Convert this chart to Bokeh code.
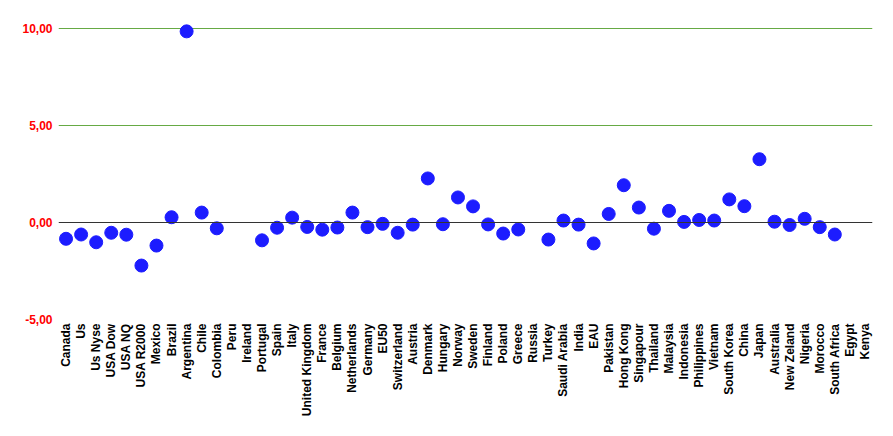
import math
from bokeh.plotting import figure
from bokeh.models import ColumnDataSource, Span, FixedTicker, CustomJSTickFormatter, Range1d, FactorRange
from bokeh.embed import file_html
from bokeh.resources import INLINE

countries = ["Canada", "Us", "Us Nyse", "USA Dow", "USA NQ", "USA R2000", "Mexico", "Brazil",
             "Argentina", "Chile", "Colombia", "Peru", "Ireland", "Portugal", "Spain", "Italy",
             "United Kingdom", "France", "Belgium", "Netherlands", "Germany", "EU50", "Switzerland",
             "Austria", "Denmark", "Hungary", "Norway", "Sweden", "Finland", "Poland", "Greece",
             "Russia", "Turkey", "Saudi Arabia", "India", "EAU", "Pakistan", "Hong Kong", "Singapour",
             "Thailand", "Malaysia", "Indonesia", "Philippines", "Vietnam", "South Korea", "China",
             "Japan", "Australia", "New Zeland", "Nigeria", "Morocco", "South Africa", "Egypt", "Kenya"]

values = [-0.84, -0.62, -1.02, -0.53, -0.63, -2.22, -1.19, 0.27,
          9.85, 0.51, -0.30, None, None, -0.92, -0.27, 0.25,
          -0.23, -0.37, -0.26, 0.51, -0.24, -0.07, -0.53,
          -0.11, 2.27, -0.09, 1.29, 0.83, -0.10, -0.57, -0.36,
          None, -0.88, 0.10, -0.11, -1.08, 0.44, 1.92, 0.77,
          -0.32, 0.60, 0.03, 0.13, 0.10, 1.19, 0.84,
          3.26, 0.04, -0.13, 0.19, -0.24, -0.62, None, None]

y_ticks = [-5, 0, 5, 10]

vals = [float("nan") if v is None else v for v in values]
src = ColumnDataSource(dict(x=countries, y=vals))

p = figure(width=880, height=430, output_backend="svg", toolbar_location=None,
           x_range=FactorRange(factors=countries, range_padding=0),
           y_range=Range1d(-5, 10.41),
           min_border_left=58, min_border_right=8, min_border_top=20, min_border_bottom=111)
p.outline_line_color = None
p.background_fill_color = "white"

p.scatter("x", "y", source=src, size=13, color="#1c1cff", line_color="#1c1cff")

p.xgrid.grid_line_color = None
p.ygrid.ticker = FixedTicker(ticks=[-5, 5, 10])
p.ygrid.grid_line_color = "#66aa44"
p.ygrid.grid_line_width = 1

p.add_layout(Span(location=0, dimension="width", line_color="#333333", line_width=1.2))

p.yaxis.ticker = FixedTicker(ticks=y_ticks)
p.yaxis.formatter = CustomJSTickFormatter(code="return tick.toFixed(2).replace('.', ',');")
p.yaxis.axis_line_color = None
p.yaxis.major_tick_line_color = None
p.yaxis.minor_tick_line_color = None
p.yaxis.major_tick_out = 0
p.yaxis.major_tick_in = 0
p.yaxis.major_label_text_color = "#ff0000"
p.yaxis.major_label_text_font = "Liberation Sans"
p.yaxis.major_label_text_font_style = "bold"
p.yaxis.major_label_text_font_size = "12px"
p.yaxis.major_label_standoff = 6

p.xaxis.axis_line_color = None
p.xaxis.major_tick_line_color = None
p.xaxis.minor_tick_line_color = None
p.xaxis.major_tick_out = 0
p.xaxis.major_tick_in = 0
p.xaxis.major_label_orientation = math.pi / 2
p.xaxis.major_label_text_color = "#000000"
p.xaxis.major_label_text_font = "Liberation Sans"
p.xaxis.major_label_text_font_style = "bold"
p.xaxis.major_label_text_font_size = "12px"
p.xaxis.major_label_standoff = 4

open("out.html", "w").write(file_html(p, INLINE))
